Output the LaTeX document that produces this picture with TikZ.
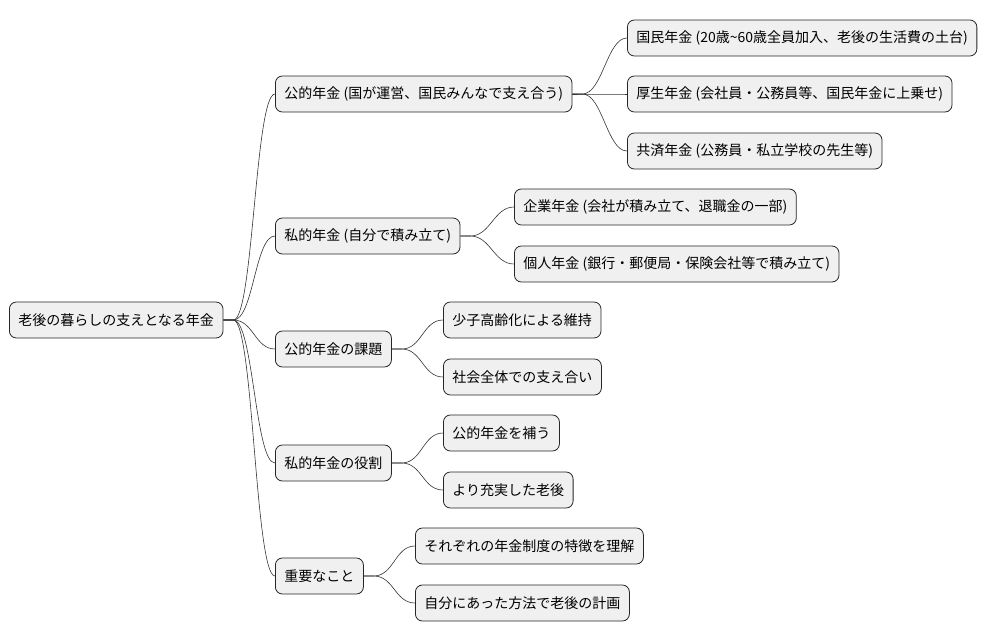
\documentclass[tikz,border=0pt]{standalone}
\usepackage{fontspec}
\setmainfont{Noto Sans CJK JP}
\begin{document}
\begin{tikzpicture}[x=1pt, y=-1pt,
  box/.style={draw=black!85, line width=0.8pt, fill=black!6, rounded corners=7pt,
    minimum height=36pt, inner xsep=9pt, anchor=west, font=\fontsize{14}{16}\selectfont},
  link/.style={black!80, line width=0.6pt}]
  \useasboundingbox (0,0) rectangle (1001,640);
  \node[box] (root) at (9,320) {老後の暮らしの支えとなる年金};
  \node[box] (pub) at (275,94) {公的年金 (国が運営、国民みんなで支え合う)};
  \node[box] (pri) at (275,236) {私的年金 (自分で積み立て)};
  \node[box] (iss) at (275,349) {公的年金の課題};
  \node[box] (rol) at (275,463) {私的年金の役割};
  \node[box] (imp) at (275,576) {重要なこと};
  \node[box] (kok) at (627,38) {国民年金 (20歳\textasciitilde 60歳全員加入、老後の生活費の土台)};
  \node[box] (kos) at (627,94) {厚生年金 (会社員・公務員等、国民年金に上乗せ)};
  \node[box] (kyo) at (627,151) {共済年金 (公務員・私立学校の先生等)};
  \node[box] (kig) at (514,207) {企業年金 (会社が積み立て、退職金の一部)};
  \node[box] (kjn) at (514,264) {個人年金 (銀行・郵便局・保険会社等で積み立て)};
  \node[box] (sho) at (443,320) {少子高齢化による維持};
  \node[box] (sha) at (443,377) {社会全体での支え合い};
  \node[box] (hog) at (443,433) {公的年金を補う};
  \node[box] (jus) at (443,490) {より充実した老後};
  \node[box] (tok) at (415,546) {それぞれの年金制度の特徴を理解};
  \node[box] (kei) at (415,603) {自分にあった方法で老後の計画};
  \foreach \a/\b in {root/pub, root/pri, root/iss, root/rol, root/imp,
      pub/kok, pub/kos, pub/kyo, pri/kig, pri/kjn, iss/sho, iss/sha,
      rol/hog, rol/jus, imp/tok, imp/kei}
    \draw[link] (\a.east) -- ++(10,0) .. controls +(20,0) and +(-20,0) .. (\b.west);
\end{tikzpicture}
\end{document}
